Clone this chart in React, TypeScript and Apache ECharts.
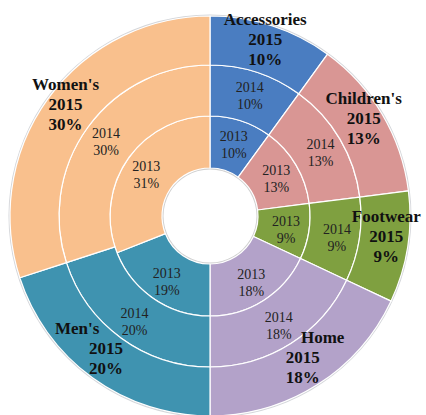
import React, { useEffect, useRef } from "react";
import * as echarts from "echarts";

const categories = ["Accessories", "Children's", "Footwear", "Home", "Men's", "Women's"];
const values2013 = [10, 13, 9, 18, 19, 31];
const values2014 = [10, 13, 9, 18, 20, 30];
const values2015 = [10, 13, 9, 18, 20, 30];
const years = ["2013", "2014", "2015"];
const colors = ["#4a7dc1", "#d99694", "#7fa040", "#b3a2c9", "#3f93b0", "#f9c08d"];

const FONT = "'Liberation Serif', 'Times New Roman', serif";

export default function App() {
  const ref = useRef<HTMLDivElement>(null);
  useEffect(() => {
    if (!ref.current) return;
    const chart = echarts.init(ref.current, null, { renderer: "svg" });
    const center = [210, 216];
    const mk = (vals: number[]) =>
      categories.map((c, i) => ({ name: c, value: vals[i], itemStyle: { color: colors[i] } }));

    const innerLabel = (year: string) => ({
      show: true,
      position: "inside",
      formatter: (p: any) => `${year}\n${p.value}%`,
      fontFamily: FONT,
      fontSize: 14,
      lineHeight: 17,
      color: "#222",
      offset: [0, 2],
    });

    const outerData = mk(values2015).map((d) => {
      if (d.name === "Men's") {
        return {
          ...d,
          label: {
            formatter: (p: any) => `{a|${p.name}}\n${years[2]}\n${p.value}%`,
            offset: [1, -12],
          },
        };
      }
      if (d.name === "Home") {
        return {
          ...d,
          label: {
            formatter: (p: any) => `{b|${p.name}}\n${years[2]}\n${p.value}%`,
            offset: [-3, -9],
          },
        };
      }
      return d;
    });

    const boldTok = {
      fontFamily: FONT,
      fontSize: 17,
      fontWeight: "bold",
      color: "#111",
      lineHeight: 20,
    };

    const common = {
      type: "pie",
      center,
      startAngle: 90,
      avoidLabelOverlap: false,
      labelLayout: { hideOverlap: false, moveOverlap: null },
      labelLine: { show: false },
      itemStyle: { borderColor: "#ffffff", borderWidth: 1.2 },
    };

    chart.setOption({
      animation: false,
      series: [
        {
          type: "pie",
          silent: true,
          center,
          radius: [199, 201.5],
          startAngle: 90,
          label: { show: false },
          labelLine: { show: false },
          data: [{ value: 1, itemStyle: { color: "#d4d6da" } }],
          z: 1,
        },
        {
          type: "pie",
          silent: true,
          center,
          radius: [46.5, 48.5],
          startAngle: 90,
          label: { show: false },
          labelLine: { show: false },
          data: [{ value: 1, itemStyle: { color: "#d0d0d0" } }],
          z: 1,
        },
        {
          ...common,
          name: years[0],
          radius: [48, 100],
          label: innerLabel(years[0]),
          data: mk(values2013),
          z: 2,
        },
        {
          ...common,
          name: years[1],
          radius: [100, 151],
          label: innerLabel(years[1]),
          data: mk(values2014),
          z: 2,
        },
        {
          ...common,
          name: years[2],
          radius: [151, 200],
          label: {
            show: true,
            position: "inside",
            formatter: (p: any) => `${p.name}\n${years[2]}\n${p.value}%`,
            ...boldTok,
            offset: [0, -7],
            rich: {
              a: { ...boldTok, padding: [0, 58, 0, 0] },
              b: { ...boldTok, padding: [0, 0, 0, 40] },
            },
          },
          data: outerData,
          z: 2,
        },
      ],
    });
    return () => chart.dispose();
  }, []);
  return (
    <div
      ref={ref}
      style={{ position: "fixed", left: 0, top: 0, width: 426, height: 415, background: "#fff" }}
    />
  );
}
